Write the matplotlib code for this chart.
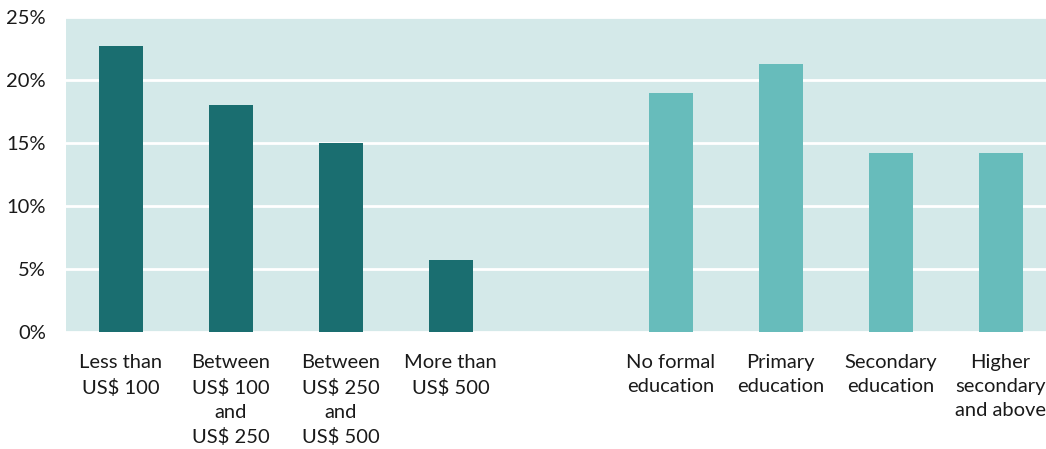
import numpy as np
import matplotlib.pyplot as plt

# share of respondents by income and by education
income_labels = ['Less than\nUS$ 100', 'Between\nUS$ 100\nand\nUS$ 250',
                 'Between\nUS$ 250\nand\nUS$ 500', 'More than\nUS$ 500']
income_values = [22.7, 18.0, 15.0, 5.7]
edu_labels = ['No formal\neducation', 'Primary\neducation',
              'Secondary\neducation', 'Higher\nsecondary\nand above']
edu_values = [19.0, 21.3, 14.2, 14.2]
yticks = [0, 5, 10, 15, 20, 25]

plt.rcParams['font.family'] = ['Lato', 'DejaVu Sans']

W, H = 1046, 449
fig = plt.figure(figsize=(W / 100, H / 100), dpi=100)
ax = fig.add_axes([65.5 / W, 117 / H, 990 / W, 315 / H])
ax.set_facecolor('#d4e9e9')

x_inc = np.arange(len(income_values))
x_edu = np.arange(len(edu_values)) + len(income_values) + 1
ax.bar(x_inc, income_values, width=0.4, color='#1a6e70', zorder=3)
ax.bar(x_edu, edu_values, width=0.4, color='#67bcbb', zorder=3)

ax.set_xlim(-0.5, 8.5)
ax.set_ylim(0, 25)
ax.set_yticks(yticks)
ax.set_yticklabels([f'{v}%' for v in yticks])
ax.set_xticks(list(x_inc) + list(x_edu))
ax.set_xticklabels(income_labels + edu_labels, linespacing=1.5)
ax.tick_params(axis='both', length=0, labelsize=14.5, colors='#1a1a1a')
ax.tick_params(axis='y', pad=14)
ax.tick_params(axis='x', pad=16)

ax.grid(axis='y', color='white', linewidth=2, zorder=1)
for s in ax.spines.values():
    s.set_visible(False)

fig.savefig('out.png', dpi=100)
